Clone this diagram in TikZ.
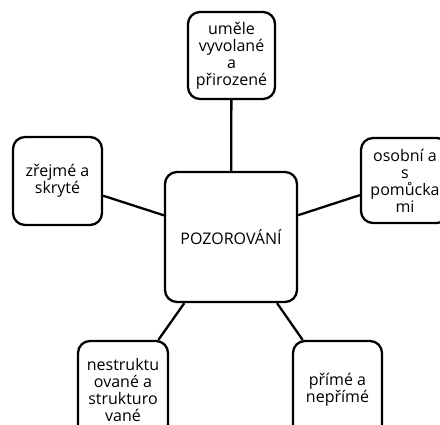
\documentclass[tikz,border=0pt]{standalone}
\usepackage{fontspec}
\setmainfont{Open Sans}
\begin{document}
\begin{tikzpicture}[x=1pt,y=-1pt,
        box/.style={draw,line width=2.3pt,rounded corners=12pt,align=center,inner sep=2pt,
            font=\fontsize{16}{17}\selectfont},
        link/.style={line width=2.3pt}]
        \useasboundingbox (0,0) rectangle (440,425);
        \node[box,minimum width=132pt,minimum height=130pt] (pozorovani) at (231,237) {POZOROVÁNÍ};
        \node[box,minimum width=87pt,minimum height=87pt] (umele) at (231.5,55.5) {uměle\\vyvolané\\a\\přirozené};
        \node[box,minimum width=89pt,minimum height=88pt] (zrejme) at (57.5,181) {zřejmé a\\skryté};
        \node[box,minimum width=88pt,minimum height=85pt] (osobni) at (405,180.5) {osobní a\\s\\pomůcka\\mi};
        \node[box,minimum width=90pt,minimum height=98pt] (nestrukt) at (123,390) {nestruktu\\ované a\\strukturo\\vané};
        \node[box,minimum width=89pt,minimum height=98pt] (prime) at (337.5,390) {přímé a\\nepřímé};
        \draw[link] (pozorovani) -- (umele);
        \draw[link] (pozorovani) -- (zrejme);
        \draw[link] (pozorovani) -- (osobni);
        \draw[link] (pozorovani) -- (nestrukt);
        \draw[link] (pozorovani) -- (prime);
\end{tikzpicture}
\end{document}
